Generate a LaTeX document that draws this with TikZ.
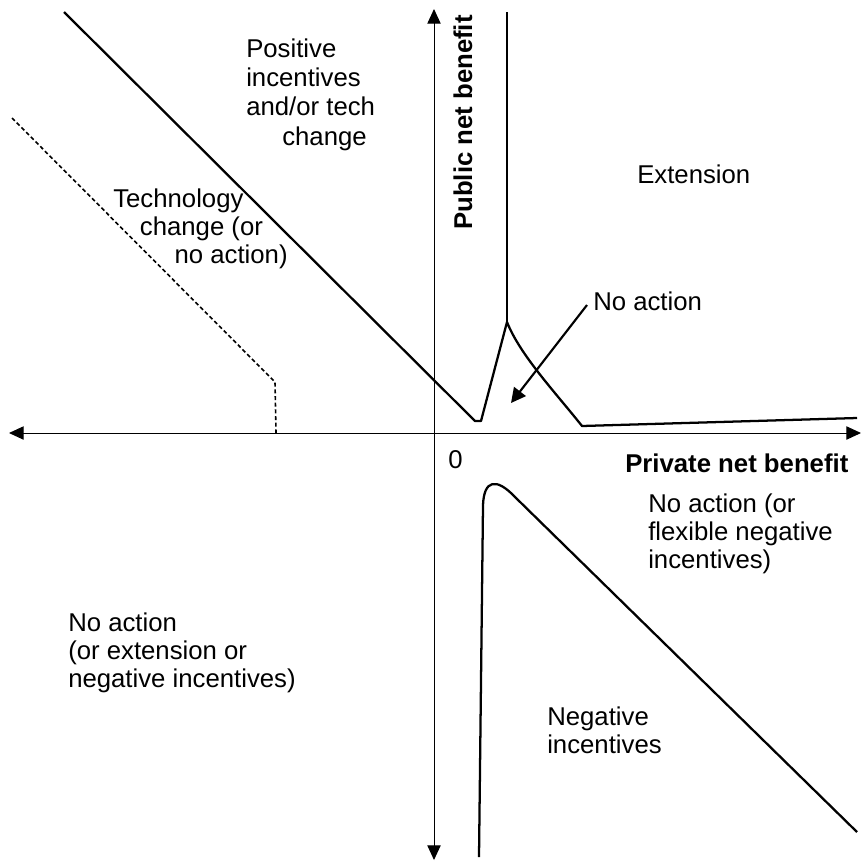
\documentclass[tikz,border=0pt]{standalone}
\usepackage{fontspec}
\setmainfont{Liberation Sans}
\usetikzlibrary{arrows.meta}

\begin{document}
\begin{tikzpicture}[x=0.75pt,y=0.75pt,yscale=-1,xscale=1,
  axis/.style={line width=0.75pt,{Triangle[length=11pt,width=10pt]}-{Triangle[length=11pt,width=10pt]}},
  bound/.style={line width=1.7pt,line join=round},
  pointer/.style={line width=1.6pt,-{Triangle[length=11pt,width=11pt]}},
  region/.style={inner sep=0pt,align=left,font=\fontsize{19.3}{20.7}\selectfont},
  axlabel/.style={inner sep=0pt,font=\fontsize{19.3}{21}\selectfont\bfseries}]
\useasboundingbox (0,0) rectangle (862,861);

% axes
\coordinate (xl) at (9,433);
\coordinate (xr) at (861,433);
\coordinate (yt) at (434,9);
\coordinate (yb) at (434,860);
\draw[axis] (xl) -- (xr);
\draw[axis] (yt) -- (yb);
\node[axlabel,anchor=base west] (private) at (625,472) {Private net benefit};
\node[axlabel,anchor=base west,rotate=90] (public) at (472,230) {Public net benefit};
\node[region,anchor=base west] (zero) at (448,468) {0};

% boundaries
\draw[bound] (64,12) -- (475,421) -- (481,421) -- (507,322) .. controls (520,355) and (555,392) .. (582,426) -- (857,418);
\draw[bound] (507,322) -- (507,12);
\draw[line width=1.2pt,dash pattern=on 3pt off 2pt] (12,118) -- (275,382) -- (276,433);
\draw[bound] (479,857) -- (483,505) .. controls (484,480) and (496,477) .. (515,497) -- (857,832);

% regions (anchored at the baseline of the last line)
\node[region,anchor=base west,font=\fontsize{19.3}{22}\selectfont] (posinc) at (246,145) {Positive\\incentives\\and/or tech\\\hspace*{27pt}change};
\node[region,anchor=base west] (tech) at (113,263) {Technology\\\hspace*{20pt}change (or\\\hspace*{46pt}no action)};
\node[region,anchor=base west] (ext) at (637,183) {Extension};
\node[region,anchor=base west] (noact) at (593,310) {No action};
\node[region,anchor=base west] (flex) at (648,568) {No action (or\\flexible negative\\incentives)};
\node[region,anchor=base west] (neginc) at (547,753) {Negative\\incentives};
\node[region,anchor=base west] (noactl) at (68,687) {No action\\(or extension or\\negative incentives)};

\coordinate (hole) at (511,403);
\draw[pointer] ([shift={(-6,-5)}]noact.base west) -- (hole);
\end{tikzpicture}
\end{document}
